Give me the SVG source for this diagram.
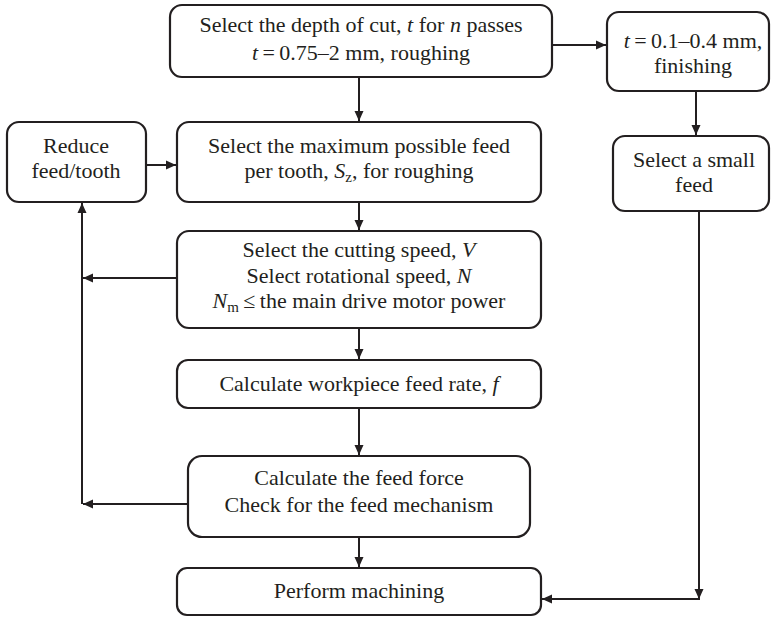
<svg xmlns="http://www.w3.org/2000/svg" width="771" height="617" viewBox="0 0 771 617">
<style>
.box{fill:#fff;stroke:#231f20;stroke-width:2.2}
.t{font-family:"Liberation Serif","Times New Roman",serif;font-size:22px;fill:#231f20;text-anchor:middle}
.i{font-style:italic}
.c{fill:none;stroke:#231f20;stroke-width:2}
</style>
<defs>
<marker id="ah" viewBox="0 0 10 10" refX="10" refY="5" markerWidth="10" markerHeight="10" markerUnits="userSpaceOnUse" orient="auto">
<path d="M0,0.5 L10,5 L0,9.5 Z" fill="#231f20"/>
</marker>
</defs>
<rect width="771" height="617" fill="#fff"/>
<g id="connectors">
<line class="c" x1="359" y1="77" x2="359" y2="121" marker-end="url(#ah)"/>
<line class="c" x1="552" y1="45" x2="606" y2="45" marker-end="url(#ah)"/>
<line class="c" x1="696" y1="91" x2="696" y2="135" marker-end="url(#ah)"/>
<line class="c" x1="146" y1="165" x2="176" y2="165" marker-end="url(#ah)"/>
<line class="c" x1="359" y1="202" x2="359" y2="230" marker-end="url(#ah)"/>
<line class="c" x1="177" y1="278" x2="83" y2="278" marker-end="url(#ah)"/>
<line class="c" x1="359" y1="328" x2="359" y2="359" marker-end="url(#ah)"/>
<line class="c" x1="359" y1="408" x2="359" y2="455" marker-end="url(#ah)"/>
<line class="c" x1="188" y1="504" x2="83" y2="504" marker-end="url(#ah)"/>
<line class="c" x1="82" y1="504" x2="82" y2="203" marker-end="url(#ah)"/>
<line class="c" x1="359" y1="537" x2="359" y2="567" marker-end="url(#ah)"/>
<line class="c" x1="699" y1="211" x2="699" y2="599" marker-end="url(#ah)"/>
<line class="c" x1="700" y1="599" x2="542" y2="599" marker-end="url(#ah)"/>
</g>
<g id="depth">
<rect class="box" x="170" y="5" width="382" height="72" rx="12"/>
<text class="t" x="361" y="32">Select the depth of cut, <tspan class="i">t</tspan> for <tspan class="i">n</tspan> passes</text>
<text class="t" x="361" y="60"><tspan class="i">t</tspan>&#8201;=&#8201;0.75–2 mm, roughing</text>
</g>
<g id="finishing">
<rect class="box" x="607" y="12" width="162" height="79" rx="12"/>
<text class="t" x="693" y="48"><tspan class="i">t</tspan>&#8201;=&#8201;0.1–0.4 mm,</text>
<text class="t" x="693" y="73">finishing</text>
</g>
<g id="smallfeed">
<rect class="box" x="613" y="136" width="156" height="75" rx="12"/>
<text class="t" x="694" y="167">Select a small</text>
<text class="t" x="694" y="192">feed</text>
</g>
<g id="reduce">
<rect class="box" x="7" y="122" width="139" height="80" rx="12"/>
<text class="t" x="76" y="153">Reduce</text>
<text class="t" x="76" y="178">feed/tooth</text>
</g>
<g id="maxfeed">
<rect class="box" x="177" y="122" width="364" height="80" rx="12"/>
<text class="t" x="359" y="153">Select the maximum possible feed</text>
<text class="t" x="359" y="178">per tooth, <tspan class="i">S</tspan><tspan font-size="15" dy="4">z</tspan><tspan dy="-4">, for roughing</tspan></text>
</g>
<g id="speed">
<rect class="box" x="177" y="231" width="364" height="97" rx="12"/>
<text class="t" x="359" y="257">Select the cutting speed, <tspan class="i">V</tspan></text>
<text class="t" x="359" y="283">Select rotational speed, <tspan class="i">N</tspan></text>
<text class="t" x="359" y="308"><tspan class="i">N</tspan><tspan font-size="15" dy="4">m</tspan><tspan dy="-4">&#8201;≤&#8201;the main drive motor power</tspan></text>
</g>
<g id="feedrate">
<rect class="box" x="177" y="360" width="364" height="48" rx="11"/>
<text class="t" x="359" y="391">Calculate workpiece feed rate, <tspan class="i">f</tspan></text>
</g>
<g id="feedforce">
<rect class="box" x="188" y="456" width="342" height="81" rx="14"/>
<text class="t" x="359" y="485">Calculate the feed force</text>
<text class="t" x="359" y="512">Check for the feed mechanism</text>
</g>
<g id="machining">
<rect class="box" x="177" y="568" width="364" height="47" rx="10"/>
<text class="t" x="359" y="598">Perform machining</text>
</g>
</svg>
